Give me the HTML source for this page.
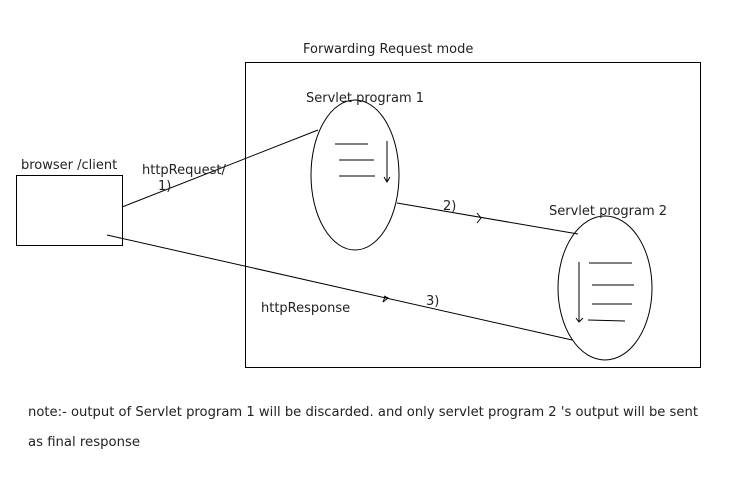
<!DOCTYPE html>
<html><head><meta charset="utf-8"><style>
html,body{margin:0;padding:0;background:#fff}
svg{display:block}
text{font-family:"DejaVu Sans","Liberation Sans",sans-serif;font-size:13px;fill:#222}
</style></head><body>
<svg width="740" height="480" viewBox="0 0 740 480" xmlns="http://www.w3.org/2000/svg">
<g fill="none" stroke="#000" stroke-width="1">
<rect x="245.5" y="62.5" width="455" height="305"/>
<rect x="16.5" y="175.5" width="106" height="70"/>
<ellipse cx="355" cy="175" rx="44" ry="75"/>
<ellipse cx="605" cy="288" rx="47" ry="72"/>
<line x1="122" y1="207" x2="318" y2="130"/>
<line x1="397" y1="203" x2="578" y2="234"/>
<line x1="107" y1="235" x2="572" y2="340"/>
<!-- servlet 1 lines -->
<line x1="335" y1="144" x2="368" y2="144"/>
<line x1="339" y1="160" x2="374" y2="160"/>
<line x1="339" y1="176" x2="375" y2="176"/>
<line x1="387" y1="141" x2="387" y2="182"/>
<polyline points="384,177 387,182 390,177"/>
<!-- servlet 2 lines -->
<line x1="589" y1="263" x2="632" y2="263"/>
<line x1="592" y1="285" x2="634" y2="285"/>
<line x1="592" y1="304" x2="632" y2="304"/>
<line x1="588" y1="320" x2="625" y2="321"/>
<line x1="579" y1="262" x2="579" y2="322"/>
<polyline points="576,318 579,322 583,318"/>
<!-- arrowheads -->
<polyline points="477,213 481,218 477,223"/>
<polyline points="383,302 388,298 384,296"/>
<line x1="385" y1="297" x2="383" y2="302"/>
</g>
<text x="303" y="53">Forwarding Request mode</text>
<text x="306" y="102">Servlet program 1</text>
<text x="549" y="215">Servlet program 2</text>
<text x="21" y="169">browser /client</text>
<text x="142" y="174">httpRequest/</text>
<text x="158" y="190">1)</text>
<text x="443" y="210">2)</text>
<text x="426" y="305">3)</text>
<text x="261" y="312">httpResponse</text>
<text x="28" y="416" textLength="670" lengthAdjust="spacingAndGlyphs">note:- output of Servlet program 1 will be discarded. and only servlet program 2 's output will be sent</text>
<text x="28" y="446" textLength="112" lengthAdjust="spacingAndGlyphs">as final response</text>
</svg>
</body></html>
